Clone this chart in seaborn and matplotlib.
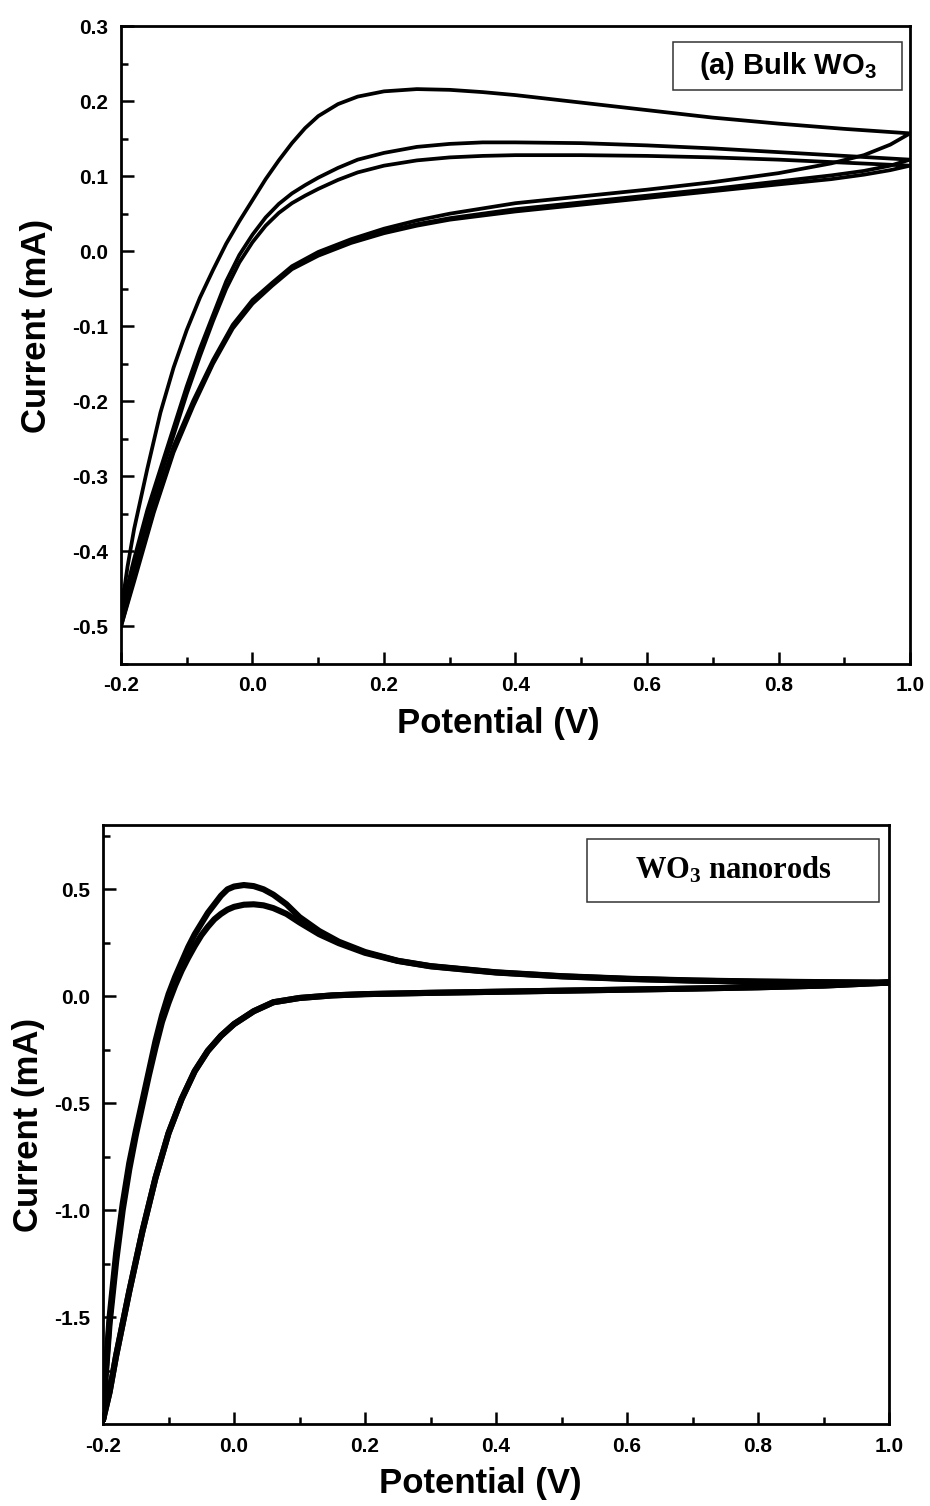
import matplotlib

matplotlib.use("Agg")

import matplotlib.pyplot as plt
import pandas as pd
import seaborn as sns
from matplotlib.patches import Rectangle
from matplotlib.ticker import FixedLocator, MultipleLocator, FormatStrFormatter

# (a) bulk WO3: three CV cycles, forward (anodic) and return (cathodic) sweeps
bulk_fwd_x = [-0.20, -0.19, -0.18, -0.16, -0.14, -0.12, -0.10, -0.08, -0.06, -0.04,
              -0.02, 0.00, 0.02, 0.04, 0.06, 0.08, 0.10, 0.13, 0.16, 0.20,
              0.25, 0.30, 0.35, 0.40, 0.50, 0.60, 0.70, 0.80, 0.90, 1.00]
bulk_fwd_1 = [-0.48, -0.42, -0.37, -0.29, -0.215, -0.155, -0.105, -0.062, -0.025, 0.010,
              0.040, 0.068, 0.096, 0.121, 0.144, 0.164, 0.180, 0.196, 0.206, 0.213,
              0.216, 0.215, 0.212, 0.208, 0.198, 0.188, 0.178, 0.170, 0.163, 0.157]
bulk_fwd_2 = [-0.48, -0.445, -0.41, -0.345, -0.29, -0.235, -0.18, -0.13, -0.085, -0.04,
              -0.005, 0.022, 0.045, 0.063, 0.077, 0.088, 0.098, 0.111, 0.122, 0.131,
              0.139, 0.143, 0.145, 0.145, 0.144, 0.141, 0.137, 0.132, 0.127, 0.122]
bulk_fwd_3 = [-0.49, -0.455, -0.42, -0.355, -0.30, -0.245, -0.19, -0.14, -0.093, -0.05,
              -0.015, 0.012, 0.034, 0.051, 0.064, 0.074, 0.083, 0.095, 0.105, 0.114,
              0.121, 0.125, 0.127, 0.128, 0.128, 0.127, 0.125, 0.122, 0.118, 0.114]

bulk_rev_x = [1.00, 0.97, 0.93, 0.88, 0.80, 0.70, 0.60, 0.50, 0.40, 0.30, 0.25, 0.20,
              0.15, 0.10, 0.06, 0.03, 0.00, -0.03, -0.06, -0.09, -0.12, -0.15, -0.18, -0.20]
bulk_rev_1 = [0.157, 0.142, 0.128, 0.117, 0.104, 0.092, 0.082, 0.073, 0.064, 0.050, 0.041, 0.030,
              0.016, -0.001, -0.020, -0.042, -0.065, -0.098, -0.145, -0.199, -0.26, -0.34, -0.43, -0.49]
bulk_rev_2 = [0.122, 0.114, 0.107, 0.101, 0.093, 0.083, 0.074, 0.065, 0.056, 0.044, 0.036, 0.026,
              0.013, -0.004, -0.022, -0.044, -0.068, -0.100, -0.148, -0.203, -0.265, -0.345, -0.435, -0.50]
bulk_rev_3 = [0.114, 0.108, 0.102, 0.096, 0.089, 0.080, 0.071, 0.062, 0.053, 0.042, 0.034, 0.024,
              0.011, -0.006, -0.024, -0.046, -0.070, -0.103, -0.150, -0.206, -0.268, -0.348, -0.44, -0.50]

# (b) WO3 nanorods: first cycle (higher peak) and later cycles
nano_fwd_x = [-0.200, -0.197, -0.19, -0.18, -0.17, -0.16, -0.15, -0.14, -0.13, -0.12,
              -0.11, -0.10, -0.09, -0.08, -0.07, -0.06, -0.05, -0.04, -0.03, -0.02,
              -0.01, 0.00, 0.015, 0.03, 0.045, 0.06, 0.08, 0.10, 0.13, 0.16,
              0.20, 0.25, 0.30, 0.40, 0.50, 0.60, 0.70, 0.80, 0.90, 1.00]
nano_fwd_1 = [-1.98, -1.80, -1.50, -1.20, -0.97, -0.78, -0.63, -0.49, -0.35, -0.21,
              -0.09, 0.01, 0.09, 0.16, 0.23, 0.29, 0.34, 0.39, 0.43, 0.47,
              0.50, 0.513, 0.52, 0.515, 0.50, 0.475, 0.43, 0.37, 0.305, 0.255,
              0.207, 0.166, 0.141, 0.112, 0.094, 0.082, 0.074, 0.069, 0.066, 0.064]
nano_fwd_2 = [-1.98, -1.82, -1.53, -1.24, -1.00, -0.81, -0.65, -0.51, -0.37, -0.24,
              -0.12, -0.03, 0.05, 0.12, 0.18, 0.235, 0.285, 0.325, 0.36, 0.385,
              0.405, 0.418, 0.428, 0.430, 0.425, 0.412, 0.385, 0.345, 0.29, 0.248,
              0.203, 0.165, 0.140, 0.111, 0.093, 0.081, 0.073, 0.068, 0.065, 0.063]
nano_rev_x = [1.00, 0.90, 0.80, 0.70, 0.60, 0.50, 0.40, 0.30, 0.20, 0.15, 0.10, 0.06, 0.03,
              0.00, -0.02, -0.04, -0.06, -0.08, -0.10, -0.12, -0.14, -0.16, -0.17, -0.18, -0.19, -0.20]
nano_rev = [0.064, 0.050, 0.042, 0.036, 0.031, 0.026, 0.021, 0.016, 0.010, 0.004, -0.008, -0.028, -0.070,
            -0.13, -0.185, -0.255, -0.35, -0.48, -0.64, -0.85, -1.10, -1.38, -1.53, -1.68, -1.85, -1.98]

sns.set_style("ticks")
plt.rcParams["font.family"] = ["Liberation Sans", "DejaVu Sans"]
plt.rcParams["font.weight"] = "bold"
plt.rcParams["axes.unicode_minus"] = False
plt.rcParams["mathtext.default"] = "regular"
for key in ["text.color", "axes.labelcolor", "xtick.color", "ytick.color", "axes.edgecolor"]:
    plt.rcParams[key] = "black"


def cycle_frame(fwd_x, fwd_y, rev_x, rev_y):
    """One closed CV loop: forward sweep followed by the return sweep."""
    return pd.DataFrame({"E": list(fwd_x) + list(rev_x), "I": list(fwd_y) + list(rev_y)})


def style_axes(ax, xlabel_pos, ylabel_pos):
    for side in ax.spines.values():
        side.set_linewidth(2.0)
        side.set_color("black")
        side.set_visible(True)
    ax.tick_params(which="both", direction="in", top=False, right=False, width=1.8,
                   labelsize=15, pad=9, colors="black", labelcolor="black")
    ax.tick_params(which="major", length=9)
    ax.tick_params(which="minor", length=5)
    ax.xaxis.set_major_locator(MultipleLocator(0.2))
    ax.xaxis.set_minor_locator(MultipleLocator(0.1))
    ax.xaxis.set_major_formatter(FormatStrFormatter("%.1f"))
    ax.yaxis.set_major_formatter(FormatStrFormatter("%.1f"))
    for lab in ax.get_xticklabels() + ax.get_yticklabels():
        lab.set_fontweight("bold")
    ax.set_xlim(-0.2, 1.0)
    ax.set_xlabel("Potential (V)", fontsize=25, fontweight="bold", color="black")
    ax.set_ylabel("Current (mA)", fontsize=25, fontweight="bold", color="black")
    ax.xaxis.set_label_coords(*xlabel_pos)
    ax.yaxis.set_label_coords(*ylabel_pos)


fig = plt.figure(figsize=(9.3, 15.06), dpi=100)
ax_top = fig.add_axes([0.1301, 0.5591, 0.8484, 0.4236])
ax_bot = fig.add_axes([0.1108, 0.0544, 0.8452, 0.3977])

bulk_cycles = [
    cycle_frame(bulk_fwd_x, bulk_fwd_1, bulk_rev_x, bulk_rev_1),
    cycle_frame(bulk_fwd_x, bulk_fwd_2, bulk_rev_x, bulk_rev_2),
    cycle_frame(bulk_fwd_x, bulk_fwd_3, bulk_rev_x, bulk_rev_3),
]
for cyc in bulk_cycles:
    sns.lineplot(data=cyc, x="E", y="I", sort=False, estimator=None, color="black",
                 linewidth=2.7, ax=ax_top)

nano_cycles = [
    cycle_frame(nano_fwd_x, nano_fwd_1, nano_rev_x, nano_rev),
    cycle_frame(nano_fwd_x, nano_fwd_2, nano_rev_x, nano_rev),
]
for cyc in nano_cycles:
    sns.lineplot(data=cyc, x="E", y="I", sort=False, estimator=None, color="black",
                 linewidth=4.4, ax=ax_bot)

style_axes(ax_top, (0.478, -0.068), (-0.086, 0.53))
ax_top.set_ylim(-0.55, 0.3)
ax_top.yaxis.set_major_locator(MultipleLocator(0.1))
ax_top.yaxis.set_minor_locator(MultipleLocator(0.05))

style_axes(ax_bot, (0.48, -0.072), (-0.074, 0.5))
ax_bot.set_ylim(-2.0, 0.8)
ax_bot.yaxis.set_major_locator(FixedLocator([-1.5, -1.0, -0.5, 0.0, 0.5]))
ax_bot.yaxis.set_minor_locator(FixedLocator([-1.75, -1.25, -0.75, -0.25, 0.25, 0.75]))

# label boxes
ax_top.add_patch(Rectangle((0.6996, 0.8997), 0.2902, 0.0752, transform=ax_top.transAxes,
                           fill=False, edgecolor="#333333", linewidth=1.1))
ax_top.text(0.8447, 0.9373, r"(a) Bulk WO$_3$", transform=ax_top.transAxes,
            ha="center", va="center", fontsize=21, fontweight="bold", color="black")

ax_bot.add_patch(Rectangle((0.6158, 0.8715), 0.3715, 0.1052, transform=ax_bot.transAxes,
                           fill=False, edgecolor="#333333", linewidth=1.1))
ax_bot.text(0.8015, 0.924, r"WO$_3$ nanorods", transform=ax_bot.transAxes,
            ha="center", va="center", fontsize=22, fontweight="bold", color="black",
            family=["Liberation Serif", "DejaVu Serif"])

fig.savefig("out.png", dpi=100)
plt.close(fig)
